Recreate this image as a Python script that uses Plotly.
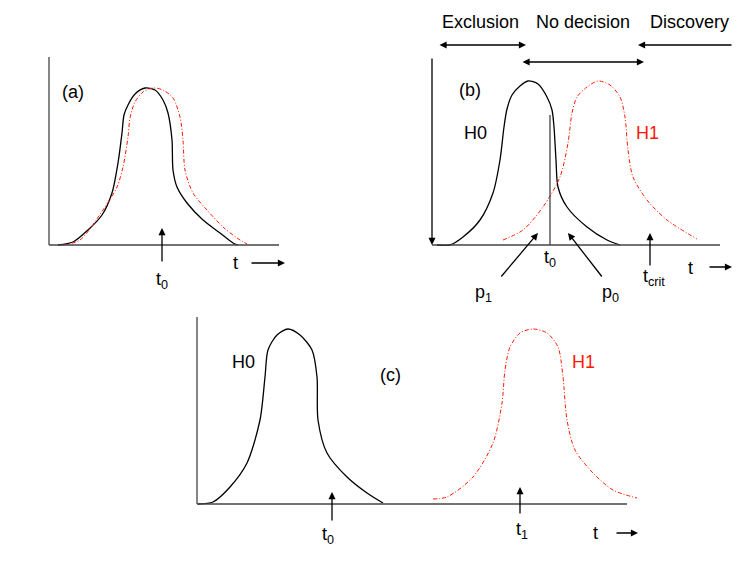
import plotly.graph_objects as go

W, H = 747, 561
OFF = 8  # default body margin of the html page

# panel (a): H0 and H1 almost on top of each other
a_h0_t = [9, 24, 39, 53, 63, 69, 73, 75, 79, 86, 96, 106, 114, 119, 123, 124, 128, 138, 154, 171, 184, 189]
a_h0_f = [0, 3, 15, 30, 52, 82, 112, 130, 140, 151, 157, 155, 145, 132, 105, 75, 58, 42, 25, 12, 2, 0]
a_h1_t = [14, 31, 54, 68, 74, 79, 81, 86, 94, 104, 114, 124, 131, 134, 136, 144, 158, 174, 188, 198]
a_h1_f = [0, 5, 35, 58, 78, 108, 127, 143, 153, 157, 155, 147, 128, 105, 75, 52, 35, 18, 7, 1]
a_t0 = 113

# panel (b): partly overlapping
b_h0_t = [5, 18, 31, 48, 61, 68, 72, 75, 80, 88, 96, 106, 115, 120, 122, 124, 126, 135, 155, 175, 188]
b_h0_f = [0, 0, 8, 25, 52, 85, 118, 136, 150, 159, 164, 161, 148, 135, 118, 85, 58, 38, 18, 5, 0]
b_h1_t = [71, 91, 111, 128, 136, 140, 145, 155, 166, 178, 188, 193, 196, 201, 215, 235, 265]
b_h1_f = [5, 15, 38, 68, 102, 132, 148, 158, 164, 160, 148, 128, 95, 68, 45, 25, 6]
b_t0 = 118
b_t0_height = 130
b_tcrit = 218

# panel (c): well separated
c_h0_t = [1, 16, 33, 50, 63, 68, 71, 80, 91, 103, 115, 120, 121, 130, 150, 170, 186]
c_h0_f = [0, 2, 17, 41, 84, 127, 154, 169, 175, 169, 154, 127, 84, 51, 27, 11, 1]
c_h1_t = [236, 250, 276, 296, 305, 308, 313, 323, 336, 350, 361, 366, 370, 378, 396, 416, 440]
c_h1_f = [5, 7, 27, 61, 101, 134, 157, 171, 175, 171, 157, 127, 84, 54, 31, 14, 6]
c_t0 = 135
c_t1 = 323

BLACK = "#000000"
RED = "#ff1a00"
AXIS = "#444444"
FONT = "Liberation Sans, Arial, sans-serif"
FW, FH = W - OFF, H - OFF

# panel placement: origin in page pixels, axis lengths, visible range
panels = {
    "a": dict(ax="", x0=49, y0=245, xlen=230, ylen=188, xr=[-10, 245], yr=[-55, 200]),
    "b": dict(ax="2", x0=432, y0=245, xlen=288, ylen=188, xr=[-10, 312], yr=[-60, 236]),
    "c": dict(ax="3", x0=197, y0=504, xlen=430, ylen=187, xr=[-10, 450], yr=[-45, 192]),
}

fig = go.Figure()

curves = [
    ("a", a_h0_t, a_h0_f, BLACK),
    ("a", a_h1_t, a_h1_f, RED),
    ("b", b_h0_t, b_h0_f, BLACK),
    ("b", b_h1_t, b_h1_f, RED),
    ("c", c_h0_t, c_h0_f, BLACK),
    ("c", c_h1_t, c_h1_f, RED),
]
for p, t, f, col in curves:
    n = panels[p]["ax"]
    if col == BLACK:
        line = dict(color=col, width=1.3, shape="spline", smoothing=0.8)
    else:
        line = dict(color=col, width=1, shape="spline", smoothing=0.8, dash="4px,2px,1px,2px")
    fig.add_trace(go.Scatter(x=t, y=f, xaxis="x" + n, yaxis="y" + n, mode="lines",
                             line=line, showlegend=False, hoverinfo="skip"))

# vertical cut at t0 in panel (b)
fig.add_trace(go.Scatter(x=[b_t0, b_t0], y=[0, b_t0_height], xaxis="x2", yaxis="y2",
                         mode="lines", line=dict(color="#333333", width=1.2),
                         showlegend=False, hoverinfo="skip"))

axis_common = dict(showgrid=False, zeroline=False, showticklabels=False, ticks="",
                   showline=False, fixedrange=True)
layout = dict(
    width=FW, height=FH,
    margin=dict(l=0, r=0, t=0, b=0),
    paper_bgcolor="white", plot_bgcolor="rgba(0,0,0,0)",
    font=dict(family=FONT, size=18, color=BLACK),
)
for p in panels.values():
    n = p["ax"]
    xd = [(p["x0"] + p["xr"][0] - OFF) / FW, (p["x0"] + p["xr"][1] - OFF) / FW]
    yd = [1 - (p["y0"] - p["yr"][0] - OFF) / FH, 1 - (p["y0"] - p["yr"][1] - OFF) / FH]
    layout["xaxis" + n] = dict(domain=xd, range=p["xr"], anchor="y" + n, **axis_common)
    layout["yaxis" + n] = dict(domain=yd, range=p["yr"], anchor="x" + n, **axis_common)
fig.update_layout(**layout)

# axis lines
for key, p in panels.items():
    n = p["ax"]
    fig.add_shape(type="line", xref="x" + n, yref="y" + n, x0=0, y0=0, x1=p["xlen"], y1=0,
                  line=dict(color=AXIS, width=1.3))
    if key != "b":
        fig.add_shape(type="line", xref="x" + n, yref="y" + n, x0=0, y0=0, x1=0, y1=p["ylen"],
                      line=dict(color=AXIS, width=1.3))


def arrow(n, x, y, ax, ay, both=False):
    xa, ya = "x" + n, "y" + n
    fig.add_annotation(x=x, y=y, ax=ax, ay=ay, xref=xa, yref=ya, axref=xa, ayref=ya,
                       text="", showarrow=True, arrowhead=2, arrowsize=1.1, arrowwidth=1.3,
                       arrowcolor=BLACK, arrowside="end+start" if both else "end",
                       standoff=0, startstandoff=0)


def label(n, x, y, text, color=BLACK):
    fig.add_annotation(x=x, y=y, xref="x" + n, yref="y" + n, text=text, showarrow=False,
                       xanchor="center", yanchor="middle", font=dict(color=color, size=18))


# panel (a)
label("", 24, 153, "(a)")
arrow("", a_t0, 17, a_t0, -18)
label("", a_t0, -35, "t<sub>0</sub>")
label("", 186, -18, "t")
arrow("", 236, -18, 201, -18)

# panel (b)
arrow("2", 0, 0, 0, 188)
label("2", 48, 223, "Exclusion")
label("2", 151, 223, "No decision")
label("2", 257, 223, "Discovery")
arrow("2", 94, 200, 6, 200, both=True)
arrow("2", 212, 183, 89, 183, both=True)
arrow("2", 206, 200, 301, 200)
label("2", 38, 155, "(b)")
label("2", 43, 112, "H0")
label("2", 215, 112, "H1", RED)
label("2", b_t0, -13, "t<sub>0</sub>")
arrow("2", 106, 12, 68, -33)
label("2", 51, -48, "p<sub>1</sub>")
arrow("2", 136, 12, 171, -33)
label("2", 178, -48, "p<sub>0</sub>")
arrow("2", b_tcrit, 12, b_tcrit, -22)
label("2", b_tcrit + 4, -32, "t<sub>crit</sub>")
label("2", 258, -23, "t")
arrow("2", 300, -22, 276, -22)

# panel (c)
label("3", 46, 142, "H0")
label("3", 193, 129, "(c)")
label("3", 386, 142, "H1", RED)
arrow("3", c_t0, 12, c_t0, -18)
label("3", c_t0 - 4, -31, "t<sub>0</sub>")
arrow("3", c_t1, 17, c_t1, -11)
label("3", c_t1 + 2, -26, "t<sub>1</sub>")
label("3", 398, -29, "t")
arrow("3", 441, -29, 418, -29)

fig.write_html("out.html")
